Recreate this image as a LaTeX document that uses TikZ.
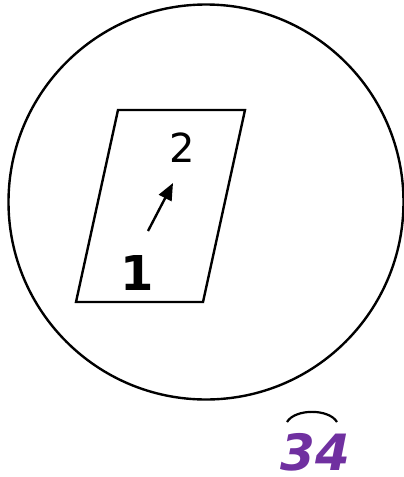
\documentclass[tikz,border=0pt]{standalone}
\usepackage{fontspec}
\setmainfont{DejaVu Sans}
\usetikzlibrary{arrows.meta}
\definecolor{numPurple}{HTML}{7030A0}

\begin{document}
\begin{tikzpicture}[x=1pt, y=-1pt, line width=2.4pt,
    digit/.style={inner sep=0pt, anchor=center}]
  \useasboundingbox (0,0) rectangle (404,477);
  % dish and slide
  \draw (206,202) circle[radius=197.5];
  \draw (118,110) -- (245,110) -- (203,302) -- (76,302) -- cycle;
  % labels
  \node[digit, font=\fontsize{40}{48}\selectfont] (two) at (182,148) {2};
  \node[digit, font=\fontsize{48}{56}\selectfont\bfseries] (one) at (137.5,272.5) {1};
  \node[digit, font=\fontsize{50}{60}\selectfont\bfseries\itshape,
        text=numPurple] (tf) at (315,452) {34};
  % arrow from 1 towards 2
  \coordinate (tail) at (148,231);
  \coordinate (head) at (173,183);
  \draw[-{Triangle[length=17pt,width=14pt]}] (tail) -- (head);
  % arc over 34
  \draw[line width=2.2pt] ([shift={(-28,-30)}]tf.center)
    .. controls ([shift={(-20,-43.5)}]tf.center) and ([shift={(14,-43.5)}]tf.center)
    .. ([shift={(22,-30)}]tf.center);
\end{tikzpicture}
\end{document}
